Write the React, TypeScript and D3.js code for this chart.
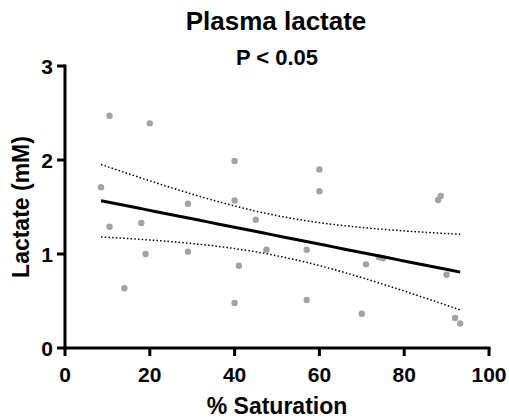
import React from 'react'
import * as d3 from 'd3'

// % saturation and plasma lactate (mM)
const saturation = [
  8.5, 10.5, 10.5, 14, 18, 19, 20, 29, 29, 40, 40, 40, 41, 45, 47.5, 57, 57, 60,
  60, 70, 71, 74, 75, 88, 88.6, 90, 92, 93.2
]
const lactate = [
  1.71, 2.47, 1.29, 0.635, 1.33, 1.0, 2.39, 1.535, 1.025, 1.99, 1.57, 0.48,
  0.875, 1.365, 1.046, 1.046, 0.51, 1.9, 1.667, 0.365, 0.89, 0.968, 0.954,
  1.574, 1.617, 0.78, 0.32, 0.26
]
const xTicks = [0, 20, 40, 60, 80, 100]
const yTicks = [0, 1, 2, 3]

const width = 509,
  height = 420
const font = 'Arial, "Liberation Sans", Helvetica, sans-serif'

// least squares fit with 95% confidence band
function fit() {
  const n = saturation.length
  const mx = d3.mean(saturation) as number
  const my = d3.mean(lactate) as number
  let sxx = 0,
    sxy = 0
  saturation.forEach((x, i) => {
    sxx += (x - mx) * (x - mx)
    sxy += (x - mx) * (lactate[i] - my)
  })
  const slope = sxy / sxx
  const icpt = my - slope * mx
  let sse = 0
  saturation.forEach((x, i) => {
    const r = lactate[i] - (icpt + slope * x)
    sse += r * r
  })
  const s = Math.sqrt(sse / (n - 2))
  const t = 2.056
  const x0 = d3.min(saturation) as number,
    x1 = d3.max(saturation) as number
  const pts = d3.range(0, 41).map(k => {
    const x = x0 + ((x1 - x0) * k) / 40
    const yh = icpt + slope * x
    const hw = t * s * Math.sqrt(1 / n + ((x - mx) * (x - mx)) / sxx)
    return { x, y: yh, lo: yh - hw, hi: yh + hw }
  })
  return pts
}

export default function App() {
  const x = d3.scaleLinear().domain([0, 100]).range([65, 489])
  const y = d3.scaleLinear().domain([0, 3]).range([348, 66])
  const pts = fit()
  const line = d3
    .line<{ x: number; y: number }>()
    .x(d => x(d.x))
    .y(d => y(d.y))
  const lo = line.y(d => y((d as any).lo))(pts)
  const hi = line.y(d => y((d as any).hi))(pts)
  const mid = line.y(d => y(d.y))(pts)

  return (
    <svg
      width={width}
      height={height}
      style={{ position: 'absolute', left: 0, top: 0 }}
      fontFamily={font}
      fontWeight='bold'>
      <rect width={width} height={height} fill='#fff' />
      <text x={276} y={30} fontSize={26} textAnchor='middle'>
        Plasma lactate
      </text>
      <text x={277} y={65} fontSize={22} textAnchor='middle'>
        P &lt; 0.05
      </text>

      {/* data */}
      {saturation.map((s, i) => (
        <circle key={i} cx={x(s)} cy={y(lactate[i])} r={3.2} fill='#a3a3a3' />
      ))}
      <path d={hi || ''} fill='none' stroke='#000' strokeWidth={1.5} strokeDasharray='1.5 2.2' />
      <path d={lo || ''} fill='none' stroke='#000' strokeWidth={1.5} strokeDasharray='1.5 2.2' />
      <path d={mid || ''} fill='none' stroke='#000' strokeWidth={3} />

      {/* axes */}
      <g stroke='#000' strokeWidth={3}>
        <line x1={x(0)} x2={x(0)} y1={y(3) - 1.5} y2={y(0) + 1.5} />
        <line x1={x(0) - 1.5} x2={x(100) + 1.5} y1={y(0)} y2={y(0)} />
        {yTicks.map(t => (
          <line key={t} x1={x(0) - 8} x2={x(0)} y1={y(t)} y2={y(t)} />
        ))}
        {xTicks.map(t => (
          <line key={t} x1={x(t)} x2={x(t)} y1={y(0)} y2={y(0) + 8} />
        ))}
      </g>
      {yTicks.map(t => (
        <text key={t} x={53} y={y(t)} dy='0.36em' fontSize={21} textAnchor='end'>
          {t}
        </text>
      ))}
      {xTicks.map(t => (
        <text key={t} x={x(t)} y={382} fontSize={21} textAnchor='middle'>
          {t}
        </text>
      ))}
      <text x={277} y={414} fontSize={23} textAnchor='middle'>
        % Saturation
      </text>
      <text
        transform={`translate(29,${y(1.5)}) rotate(-90)`}
        fontSize={23}
        textAnchor='middle'>
        Lactate (mM)
      </text>
    </svg>
  )
}
